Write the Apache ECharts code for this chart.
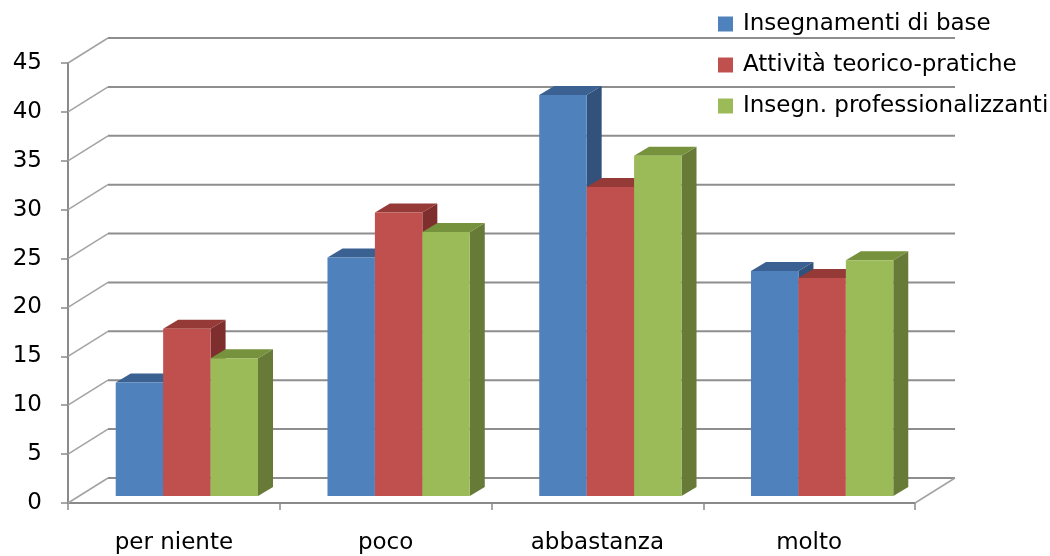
<!DOCTYPE html>
<html>
<head>
<meta charset="utf-8">
<title>Valutazione degli insegnamenti</title>
<script src="https://cdn.jsdelivr.net/npm/echarts@6/dist/echarts.min.js"></script>
<style>
  html, body { margin: 0; padding: 0; background: #ffffff; }
  #chart { width: 1050px; height: 556px; }
</style>
</head>
<body>
<div id="chart"></div>
<script>
// Categories and percentages per tipo di insegnamento
const categories = ['per niente', 'poco', 'abbastanza', 'molto'];
const seriesNames = ['Insegnamenti di base', 'Attività teorico-pratiche', 'Insegn. professionalizzanti'];
const insegnamentiBase = [11.6, 24.4, 41.0, 23.0];
const attivitaTeoricoPratiche = [17.1, 29.0, 31.6, 22.3];
const insegnProfessionalizzanti = [14.1, 27.0, 34.8, 24.1];
const yTicks = [0, 5, 10, 15, 20, 25, 30, 35, 40, 45];

// Face colours: front, top, side
const palette = [
  { front: '#4F81BD', top: '#3A6191', side: '#32527C' },
  { front: '#C0504D', top: '#963A38', side: '#7E2F2D' },
  { front: '#9BBB59', top: '#76923C', side: '#677A37' }
];

// Perspective offsets (pixels)
const WALL_DX = 40, WALL_DY = -25;     // depth of the back wall
const BAR_SHIFT_X = 13, BAR_SHIFT_Y = -7; // bars sit a little behind the front plane
const BAR_DX = 15, BAR_DY = -9;         // bar depth
const CLUSTER_RATIO = 0.672;            // share of a category band taken by the three bars
const FONT = '"DejaVu Sans", sans-serif';

const chart = echarts.init(document.getElementById('chart'), null, { renderer: 'canvas' });

function wallItem(params, api) {
  const v = api.value(0);
  const y = api.coord([0, v])[1];
  const cs = params.coordSys;
  const x0 = cs.x, x1 = cs.x + cs.width;
  const children = [
    {
      type: 'polyline',
      shape: { points: [[x0, y], [x0 + WALL_DX, y + WALL_DY]] },
      style: { stroke: '#A3A3A3', lineWidth: 1.5, fill: null }
    },
    {
      type: 'polyline',
      shape: { points: [[x0 + WALL_DX, y + WALL_DY], [x1 + WALL_DX, y + WALL_DY]] },
      style: { stroke: '#8E8E8E', lineWidth: 2, fill: null }
    }
  ];
  if (v === 0) {
    children.push({
      type: 'polyline',
      shape: { points: [[x1, y], [x1 + WALL_DX, y + WALL_DY]] },
      style: { stroke: '#A3A3A3', lineWidth: 1.5, fill: null }
    });
  }
  return { type: 'group', children: children };
}

function barRenderer(idx) {
  const c = palette[idx];
  return function (params, api) {
    const cat = api.value(0);
    const v = api.value(1);
    const topPt = api.coord([cat, v]);
    const basePt = api.coord([cat, 0]);
    const band = api.size([1, 0])[0];
    const clusterW = band * CLUSTER_RATIO;
    const barW = clusterW / 3;
    const x0 = topPt[0] - clusterW / 2 + idx * barW + BAR_SHIFT_X;
    const x1 = x0 + barW;
    const yTop = topPt[1] + BAR_SHIFT_Y;
    const yBot = basePt[1] + BAR_SHIFT_Y;
    return {
      type: 'group',
      children: [
        {
          type: 'polygon',
          shape: { points: [[x1, yTop], [x1 + BAR_DX, yTop + BAR_DY], [x1 + BAR_DX, yBot + BAR_DY], [x1, yBot]] },
          style: { fill: c.side }
        },
        {
          type: 'polygon',
          shape: { points: [[x0, yTop], [x0 + BAR_DX, yTop + BAR_DY], [x1 + BAR_DX, yTop + BAR_DY], [x1, yTop]] },
          style: { fill: c.top }
        },
        {
          type: 'rect',
          shape: { x: x0, y: yTop, width: barW, height: yBot - yTop },
          style: { fill: c.front }
        }
      ]
    };
  };
}

const valueSets = [insegnamentiBase, attivitaTeoricoPratiche, insegnProfessionalizzanti];

const barSeries = valueSets.map(function (vals, i) {
  return {
    name: seriesNames[i],
    type: 'custom',
    renderItem: barRenderer(i),
    itemStyle: { color: palette[i].front },
    encode: { x: 0, y: 1 },
    data: vals.map(function (v, k) { return [k, v]; }),
    z: 3
  };
});

chart.setOption({
  animation: false,
  backgroundColor: '#ffffff',
  textStyle: { fontFamily: FONT },
  grid: { left: 68, right: 135, top: 63, bottom: 53, containLabel: false },
  legend: {
    orient: 'vertical',
    left: 713,
    top: 7,
    itemWidth: 15,
    itemHeight: 15,
    itemGap: 17,
    icon: 'rect',
    data: seriesNames,
    textStyle: { fontFamily: FONT, fontSize: 23, color: '#000000', lineHeight: 24, padding: [0, 0, 0, 5] }
  },
  xAxis: {
    type: 'category',
    data: categories,
    boundaryGap: true,
    axisLine: { show: true, lineStyle: { color: '#8A8A8A', width: 2 } },
    axisTick: { show: true, length: 7, lineStyle: { color: '#8A8A8A', width: 1.5 } },
    axisLabel: { fontFamily: FONT, fontSize: 23, color: '#000000', margin: 29 },
    splitLine: { show: false }
  },
  yAxis: {
    type: 'value',
    min: 0,
    max: 45,
    interval: 5,
    axisLine: { show: true, lineStyle: { color: '#8A8A8A', width: 2 } },
    axisTick: { show: true, length: 7, lineStyle: { color: '#8A8A8A', width: 1.5 } },
    axisLabel: { fontFamily: FONT, fontSize: 23, color: '#000000', margin: 26 },
    splitLine: { show: false }
  },
  series: [
    {
      name: 'wall',
      type: 'custom',
      renderItem: wallItem,
      encode: { y: 0 },
      data: yTicks.map(function (t) { return [t]; }),
      silent: true,
      z: 1
    }
  ].concat(barSeries)
});
</script>
</body>
</html>
